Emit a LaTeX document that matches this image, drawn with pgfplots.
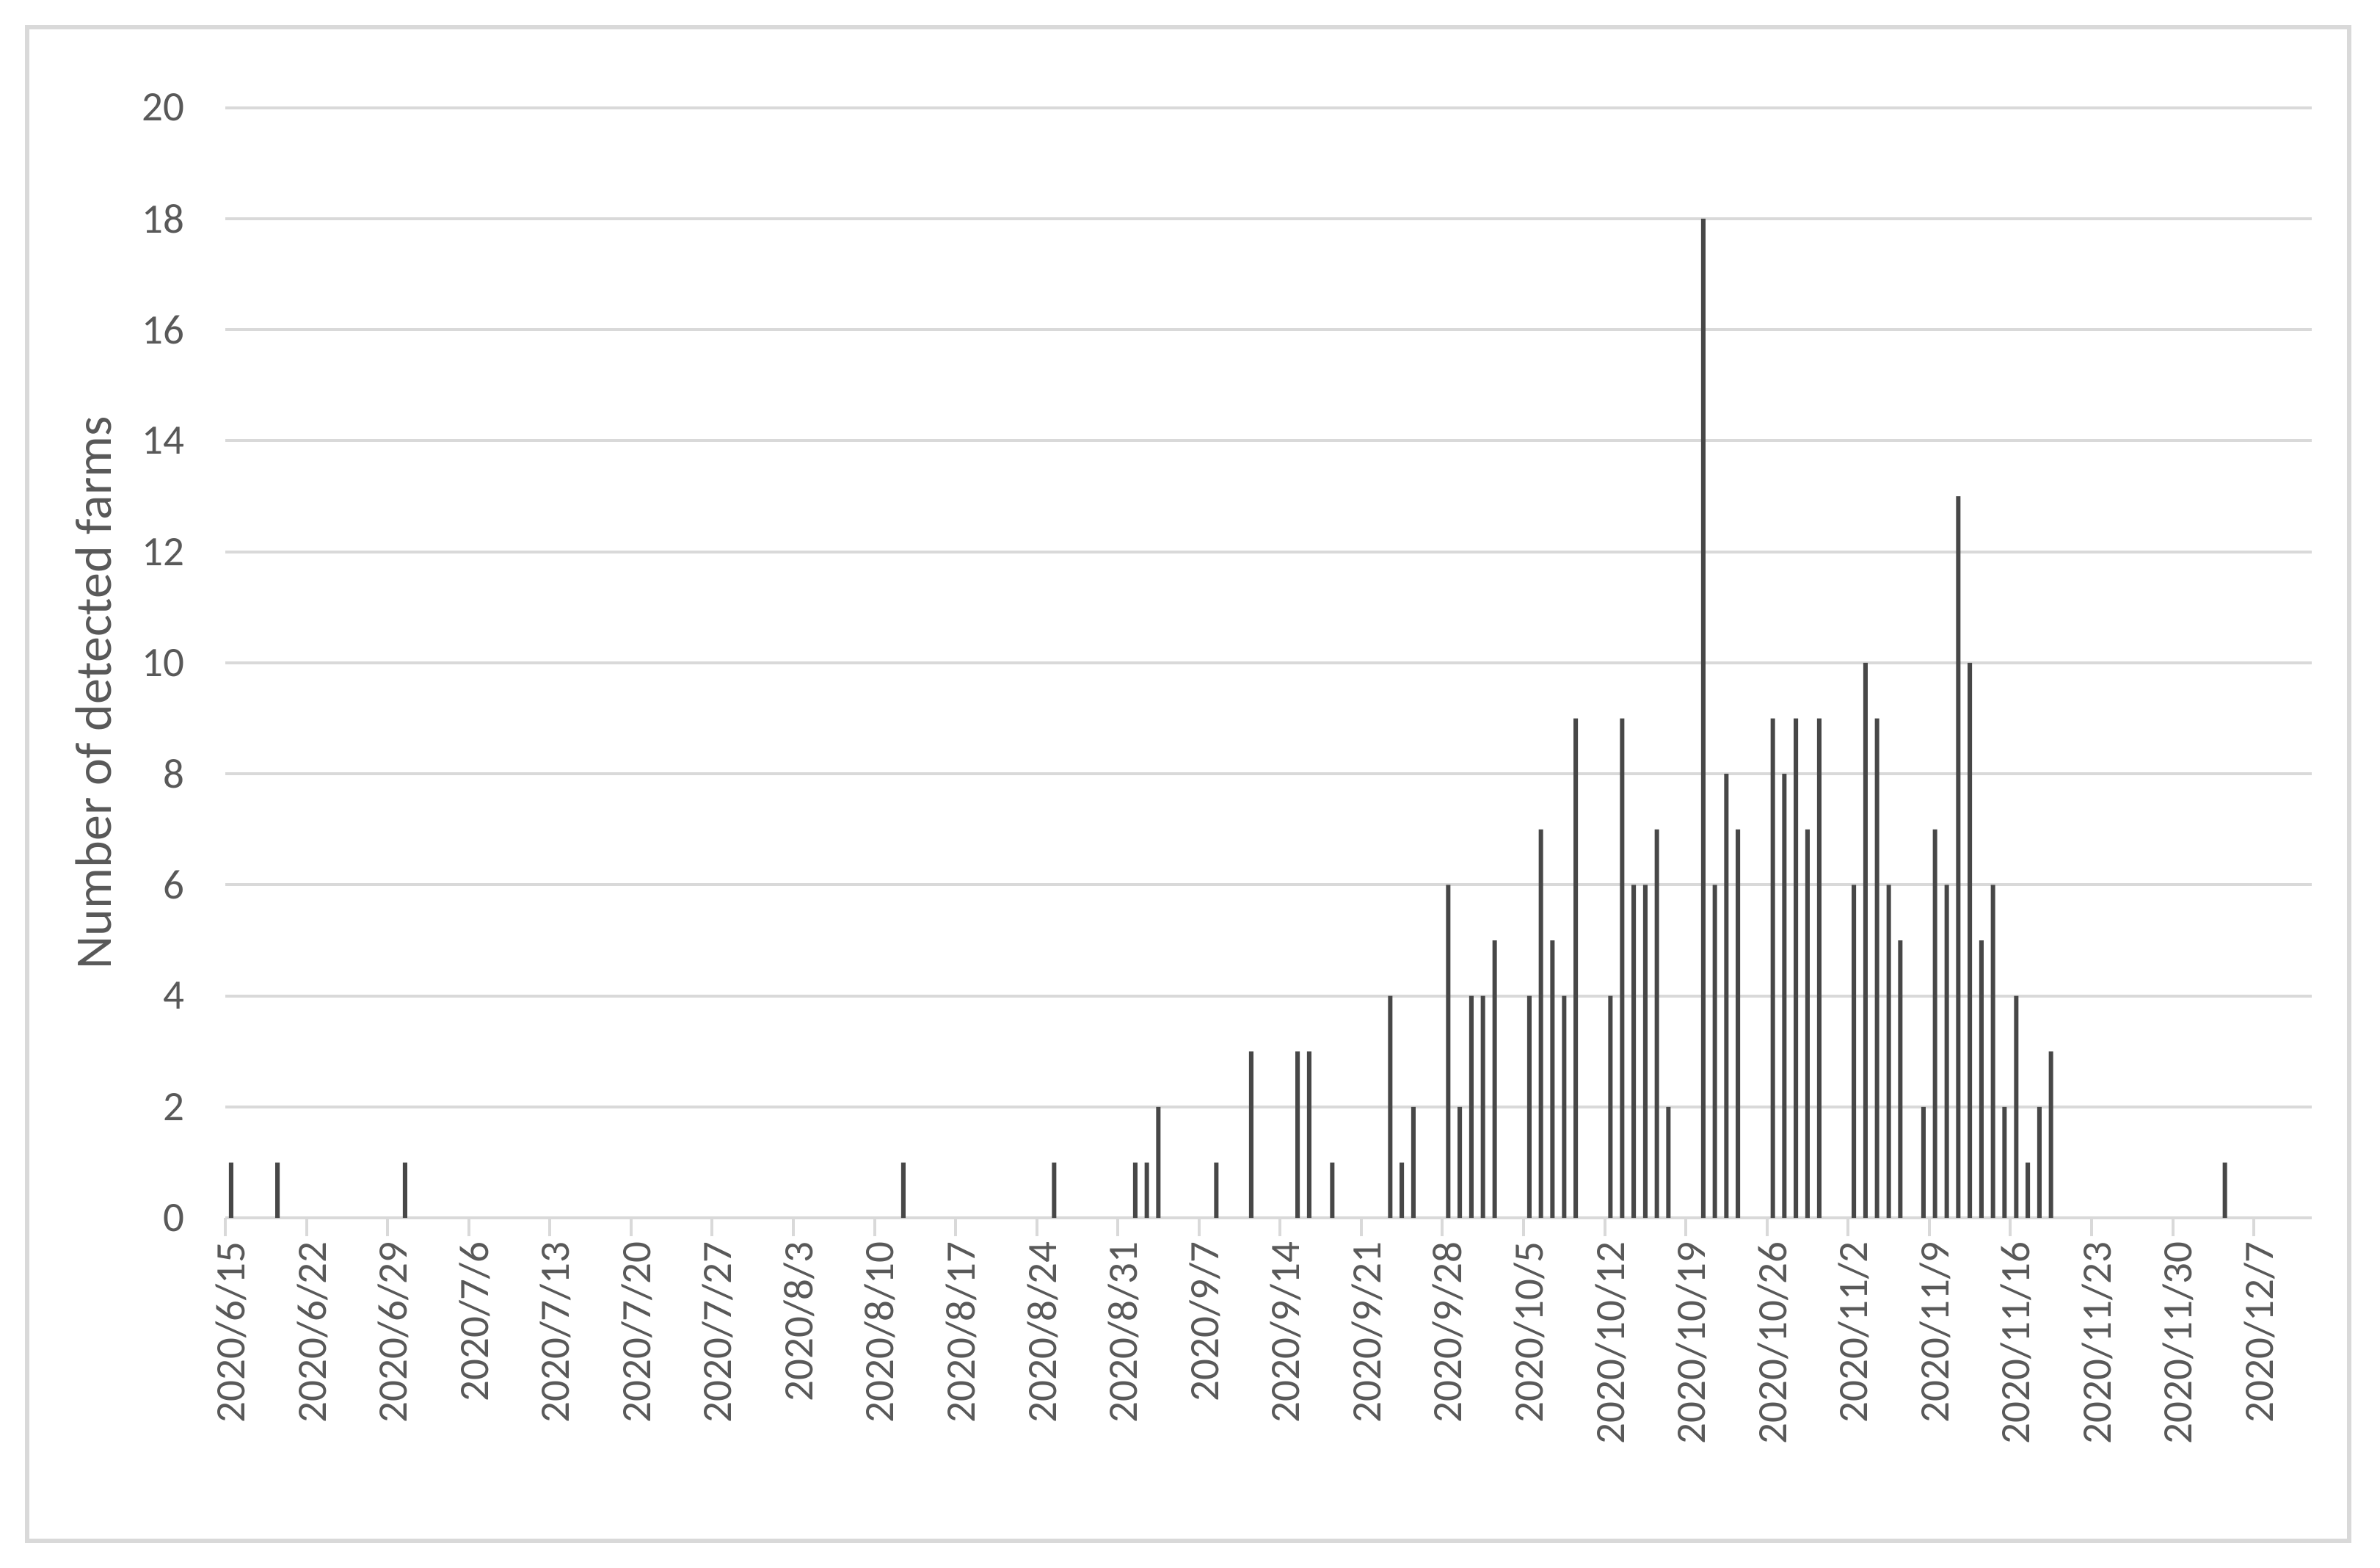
\documentclass[border=0pt]{standalone}
\usepackage{fontspec}
\setmainfont{Carlito}
\usepackage{pgfplots}
\pgfplotsset{compat=1.18}
\definecolor{txt}{HTML}{595959}
\definecolor{gridc}{HTML}{D9D9D9}
\definecolor{barc}{HTML}{474747}
\begin{document}
\begin{tikzpicture}
\useasboundingbox (-76.75pt,-119pt) rectangle (734pt,414.8pt);
\fill[white] (-76.75pt,-119pt) rectangle (734pt,414.8pt);
\draw[gridc, line width=1.5pt] (-67.5pt,-109.9pt) rectangle (723.5pt,405.6pt);
\begin{axis}[
  at={(0,0)}, anchor=south west,
  scale only axis, width=710.75pt, height=378.15pt,
  xmin=-0.5, xmax=179.5, ymin=0, ymax=20,
  axis x line*=bottom, axis y line*=left,
  x axis line style={draw=gridc, line width=1pt, -},
  y axis line style={draw=none},
  ytick={0,2,...,20},
  ymajorgrids, grid style={draw=gridc, line width=1pt},
  ytick style={draw=none},
  /pgf/number format/assume math mode=true,
  yticklabel style={anchor=east, inner sep=0pt, xshift=-13.8pt, text=txt, font=\fontsize{14.25}{17}\selectfont},
  xtick={0,7,...,175},
  xticklabels={2020/6/15,2020/6/22,2020/6/29,2020/7/6,2020/7/13,2020/7/20,2020/7/27,2020/8/3,2020/8/10,2020/8/17,2020/8/24,2020/8/31,2020/9/7,2020/9/14,2020/9/21,2020/9/28,2020/10/5,2020/10/12,2020/10/19,2020/10/26,2020/11/2,2020/11/9,2020/11/16,2020/11/23,2020/11/30,2020/12/7},
  xtick style={draw=none},
  major tick length=0pt,
  xticklabel style={rotate=90, anchor=east, inner sep=0pt, text=txt, font=\fontsize{14.25}{17}\selectfont},
  xticklabel shift=8pt,
  extra x ticks={-0.5,6.5,...,174.5},
  extra x tick labels={},
  extra x tick style={major tick length=6.25pt, tick align=outside, xtick style={draw=gridc, line width=1pt}},
  ylabel={Number of detected farms},
  ylabel style={at={(axis description cs:-0.063,0.473)}, anchor=center, text=txt, font=\fontsize{17.5}{21}\selectfont},
]
\addplot[ybar, bar width=1.5pt, fill=barc, draw=none] table {
x y
0 1
4 1
15 1
58 1
71 1
78 1
79 1
80 2
85 1
88 3
92 3
93 3
95 1
100 4
101 1
102 2
105 6
106 2
107 4
108 4
109 5
112 4
113 7
114 5
115 4
116 9
119 4
120 9
121 6
122 6
123 7
124 2
127 18
128 6
129 8
130 7
133 9
134 8
135 9
136 7
137 9
140 6
141 10
142 9
143 6
144 5
146 2
147 7
148 6
149 13
150 10
151 5
152 6
153 2
154 4
155 1
156 2
157 3
172 1
};
\end{axis}
\end{tikzpicture}
\end{document}
